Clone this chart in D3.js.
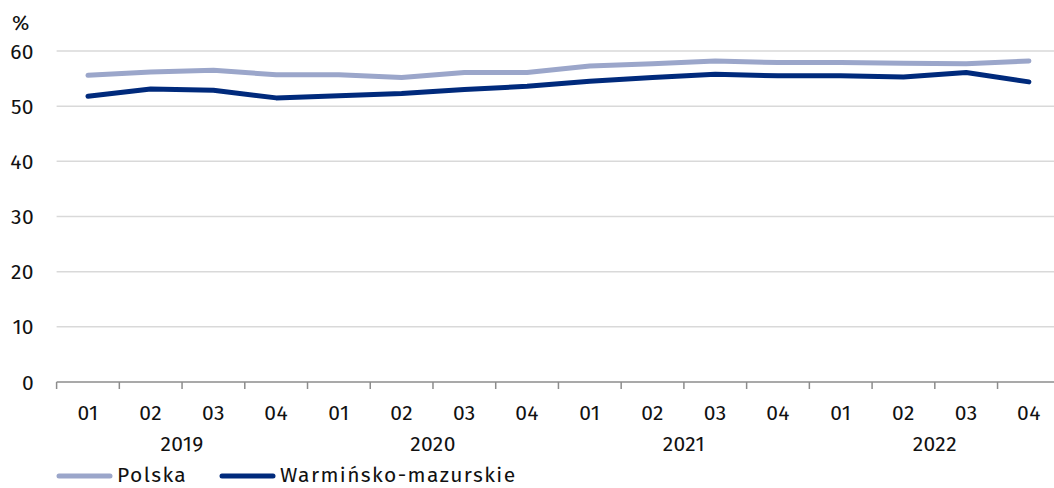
<!DOCTYPE html>
<html>
<head>
<meta charset="utf-8">
<script src="https://cdn.jsdelivr.net/npm/d3@7/dist/d3.min.js"></script>
<style>
html,body{margin:0;padding:0;background:#fff;}
svg{display:block;font-family:"Fira Sans","Noto Sans","Open Sans",sans-serif;}
</style>
</head>
<body>
<svg id="chart" width="1054" height="488"></svg>
<script>
const quarters = ["01","02","03","04","01","02","03","04","01","02","03","04","01","02","03","04"];
const years = ["2019","2020","2021","2022"];
const polska = [55.6,56.2,56.5,55.7,55.7,55.2,56.1,56.1,57.3,57.7,58.2,57.9,57.9,57.8,57.7,58.2];
const warminsko = [51.8,53.1,52.9,51.5,51.9,52.3,53.0,53.6,54.5,55.2,55.8,55.5,55.5,55.3,56.1,54.4];
const yTicks = [0,10,20,30,40,50,60];
const seriesNames = ["Polska","Warmińsko-mazurskie"];
const seriesColors = ["#9ba6ca","#002a7c"];

const svg = d3.select("#chart");
const left = 56.6, step = 62.73;
const x = d3.scaleBand().domain(d3.range(quarters.length)).range([left, left + step*quarters.length]).paddingInner(0).paddingOuter(0);
const y = d3.scaleLinear().domain([0,60]).range([382,51]);
const txt = "#111", fs = 21;

// gridlines
svg.append("g").selectAll("line").data(yTicks.filter(d=>d>0)).join("line")
  .attr("x1", left).attr("x2", 1054)
  .attr("y1", d=>y(d)).attr("y2", d=>y(d))
  .attr("stroke","#d9d9d9").attr("stroke-width",1.5);

// y labels
svg.append("g").selectAll("text").data(yTicks).join("text")
  .attr("x",34).attr("y",d=>y(d)).attr("dy","0.36em")
  .attr("text-anchor","end").attr("font-size",fs).attr("letter-spacing",0.4).attr("fill",txt)
  .text(d=>d);
svg.append("text").attr("x",12).attr("y",30).attr("font-size",fs).attr("fill",txt).text("%");

// x axis line
svg.append("line").attr("x1",left).attr("x2",1054).attr("y1",y(0)).attr("y2",y(0))
  .attr("stroke","#8c8c8c").attr("stroke-width",1.5);
// ticks at band boundaries
svg.append("g").selectAll("line").data(d3.range(quarters.length+1)).join("line")
  .attr("x1",d=>left+d*step).attr("x2",d=>left+d*step)
  .attr("y1",y(0)).attr("y2",y(0)+7)
  .attr("stroke","#8c8c8c").attr("stroke-width",1.5);

// quarter labels
svg.append("g").selectAll("text").data(quarters).join("text")
  .attr("x",(d,i)=>x(i)+x.bandwidth()/2).attr("y",419.5)
  .attr("text-anchor","middle").attr("font-size",fs).attr("letter-spacing",0.4).attr("fill",txt)
  .text(d=>d);
// year labels
svg.append("g").selectAll("text").data(years).join("text")
  .attr("x",(d,i)=>x(i*4)+2*step).attr("y",451)
  .attr("text-anchor","middle").attr("font-size",fs).attr("letter-spacing",0.4).attr("fill",txt)
  .text(d=>d);

// lines
const line = d3.line().x((d,i)=>x(i)+x.bandwidth()/2).y(d=>y(d));
[polska, warminsko].forEach((s,k)=>{
  svg.append("path").datum(s).attr("d",line)
    .attr("fill","none").attr("stroke",seriesColors[k]).attr("stroke-width",5)
    .attr("stroke-linecap","round").attr("stroke-linejoin","round");
});

// legend
const legendX = [57,220];
seriesNames.forEach((n,k)=>{
  svg.append("line").attr("x1",legendX[k]+2).attr("x2",legendX[k]+53).attr("y1",476).attr("y2",476)
    .attr("stroke",seriesColors[k]).attr("stroke-width",5).attr("stroke-linecap","round");
  svg.append("text").attr("x",legendX[k]+60).attr("y",481.5).attr("font-size",fs).attr("letter-spacing",1.4).attr("fill",txt).text(n);
});
</script>
</body>
</html>
